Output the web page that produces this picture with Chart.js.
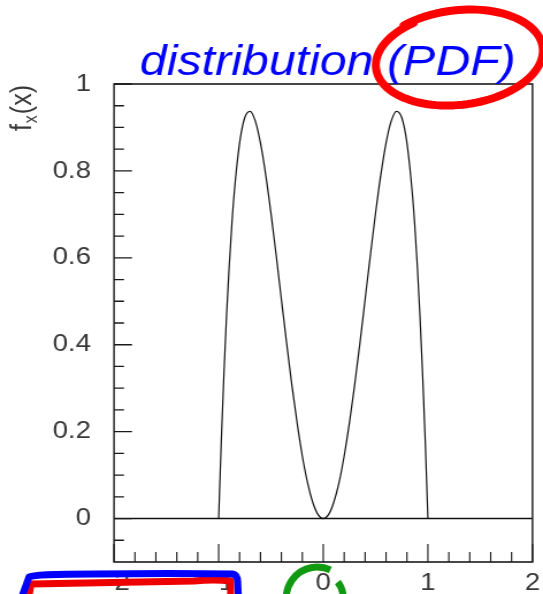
<!DOCTYPE html>
<html><head><meta charset="utf-8">
<script src="https://cdn.jsdelivr.net/npm/chart.js@4/dist/chart.umd.min.js"></script>
<style>
html,body{margin:0;padding:0;background:#fff;overflow:hidden;}
#wrap{width:543px;height:594px;overflow:hidden;position:relative;background:#fff;}
#c{position:absolute;left:0;top:0;transform-origin:0 0;transform:scaleX(1.1504237);}
</style></head><body>
<div id="wrap"><canvas id="c" width="472" height="594" style="width:472px;height:594px"></canvas></div>
<script>
// ---- data ----
const titleText = 'distribution (PDF)';
const yTitleMain = 'f', yTitleSub = 'x', yTitleRest = '(x)';
const pdfX = [-1, -0.975, -0.95, -0.925, -0.9, -0.875, -0.85, -0.8, -0.75, -0.7, -0.65, -0.6, -0.55, -0.5, -0.45, -0.4, -0.35, -0.3, -0.25, -0.2, -0.15, -0.1, -0.05, 0,
              0.05, 0.1, 0.15, 0.2, 0.25, 0.3, 0.35, 0.4, 0.45, 0.5, 0.55, 0.6, 0.65, 0.7, 0.75, 0.8, 0.85, 0.875, 0.9, 0.925, 0.95, 0.975, 1];
const pdfY = [0, 0.176, 0.330, 0.463, 0.577, 0.673, 0.752, 0.864, 0.923, 0.937, 0.915, 0.864, 0.791, 0.703, 0.606, 0.504, 0.403, 0.307, 0.220, 0.144, 0.082, 0.037, 0.009, 0,
              0.009, 0.037, 0.082, 0.144, 0.220, 0.307, 0.403, 0.504, 0.606, 0.703, 0.791, 0.864, 0.915, 0.937, 0.923, 0.864, 0.752, 0.673, 0.577, 0.463, 0.330, 0.176, 0];
const zeroX = [-2, 2];
const zeroY = [0, 0];
const xRange = [-2, 2];
const yRange = [-0.1, 1];
const xTickValues = [-2, -1, 0, 1, 2];
const xTickLabels = ['\u22122', '\u22121', '0', '1', '2'];
const xMinorTicks = [-1.8, -1.6, -1.4, -1.2, -0.8, -0.6, -0.4, -0.2, 0.2, 0.4, 0.6, 0.8, 1.2, 1.4, 1.6, 1.8];
const yTickValues = [0, 0.2, 0.4, 0.6, 0.8, 1];
const yTickLabels = ['0', '0.2', '0.4', '0.6', '0.8', '1'];
const yMinorTicks = [-0.05, 0.05, 0.1, 0.15, 0.25, 0.3, 0.35, 0.45, 0.5, 0.55, 0.65, 0.7, 0.75, 0.85, 0.9, 0.95];

// ---- rendering ----
const S = 543 / 472;           // horizontal stretch of the whole picture
const FONT = '"Liberation Sans", Arial, Helvetica, sans-serif';
const INK = '#383838';

const decor = {
  id: 'decor',
  afterDatasetsDraw(chart) {
    const {ctx, chartArea: a, scales: {x, y}} = chart;
    ctx.save();
    ctx.scale(1 / S, 1);
    const L = a.left * S, R = a.right * S, T = a.top, B = a.bottom;
    ctx.strokeStyle = '#1a1a1a';
    ctx.lineWidth = 1.3;
    ctx.beginPath();
    yTickValues.forEach(v => { const p = y.getPixelForValue(v); ctx.moveTo(L, p); ctx.lineTo(L + 18, p); });
    yMinorTicks.forEach(v => { const p = y.getPixelForValue(v); ctx.moveTo(L, p); ctx.lineTo(L + 10, p); });
    xTickValues.forEach(v => { const p = x.getPixelForValue(v) * S; ctx.moveTo(p, B); ctx.lineTo(p, B - 18); });
    xMinorTicks.forEach(v => { const p = x.getPixelForValue(v) * S; ctx.moveTo(p, B); ctx.lineTo(p, B - 10); });
    ctx.stroke();
    ctx.lineWidth = 1.6;
    ctx.strokeRect(L, T, R - L, B - T);
    ctx.restore();

    // title
    ctx.save();
    ctx.font = 'italic 42px ' + FONT;
    ctx.fillStyle = '#0000ff';
    ctx.textAlign = 'center';
    ctx.textBaseline = 'alphabetic';
    ctx.fillText(titleText, (a.left + a.right) / 2 + 4, a.top - 9);
    ctx.restore();

    // y axis title, rotated, ending at the top of the frame
    ctx.save();
    ctx.fillStyle = INK;
    ctx.translate(27, a.top + 1);
    ctx.rotate(-Math.PI / 2);
    ctx.textBaseline = 'alphabetic';
    ctx.textAlign = 'left';
    const big = '25px ' + FONT, small = '16px ' + FONT;
    ctx.font = big; const w1 = ctx.measureText(yTitleMain).width, w3 = ctx.measureText(yTitleRest).width;
    ctx.font = small; const w2 = ctx.measureText(yTitleSub).width;
    let u = -(w1 + w2 + w3 + 2);
    ctx.font = big; ctx.fillText(yTitleMain, u, 0); u += w1 + 1;
    ctx.font = small; ctx.fillText(yTitleSub, u, 5); u += w2 + 1;
    ctx.font = big; ctx.fillText(yTitleRest, u, 0);
    ctx.restore();
  },
  afterDraw(chart) {
    // hand-drawn highlight marks
    const {ctx, chartArea: a, scales: {x}} = chart;
    ctx.save();
    ctx.scale(1 / S, 1);
    ctx.lineCap = 'round';
    ctx.lineJoin = 'round';
    const R = a.right * S, T = a.top;
    // red loop around "(PDF)"
    const cx = R - 74, cy = T - 26, rx = 86, ry = 48, rot = -0.12;
    ctx.strokeStyle = '#ff0000';
    ctx.lineWidth = 8;
    ctx.beginPath();
    const t0 = -2.2, n = 120;
    for (let i = 0; i <= n; i++) {
      const t = t0 + (2 * Math.PI + 0.12) * i / n;
      const k = 1 - 0.04 * i / n;
      const ex = rx * k * Math.cos(t), ey = ry * k * Math.sin(t);
      const px = cx + ex * Math.cos(rot) - ey * Math.sin(rot);
      const py = cy + ex * Math.sin(rot) + ey * Math.cos(rot);
      if (i === 0) ctx.moveTo(px, py); else ctx.lineTo(px, py);
    }
    ctx.stroke();

    const p2 = x.getPixelForValue(-2) * S, p1 = x.getPixelForValue(-1) * S, p0 = x.getPixelForValue(0) * S;
    const B = a.bottom;
    // red box
    ctx.strokeStyle = '#ee0000';
    ctx.lineWidth = 7;
    ctx.beginPath();
    ctx.moveTo(p2 - 86, B + 40);
    ctx.lineTo(p2 - 83, B + 22);
    ctx.quadraticCurveTo(p2 + 10, B + 20, p2 + 80, B + 19);
    ctx.quadraticCurveTo(p1 - 5, B + 17, p1 + 12, B + 19);
    ctx.lineTo(p1 + 12, B + 40);
    ctx.stroke();
    // blue box
    ctx.strokeStyle = '#0000ff';
    ctx.lineWidth = 7;
    ctx.beginPath();
    ctx.moveTo(p2 - 94, B + 40);
    ctx.lineTo(p2 - 85, B + 15);
    ctx.quadraticCurveTo(p2 - 80, B + 12, p2 - 20, B + 12);
    ctx.quadraticCurveTo(p2 + 60, B + 11, p1 + 14, B + 12);
    ctx.quadraticCurveTo(p1 + 19, B + 13, p1 + 19, B + 20);
    ctx.lineTo(p1 + 20, B + 40);
    ctx.stroke();
    // green arc around "0"
    ctx.strokeStyle = '#119911';
    ctx.lineWidth = 7;
    ctx.lineCap = 'butt';
    const gx = p0 - 6, gy = B + 36;
    ctx.beginPath();
    ctx.arc(gx, gy, 31, 2.97, 5.15);
    ctx.stroke();
    ctx.beginPath();
    ctx.arc(gx, gy, 26, 5.62, 6.2);
    ctx.stroke();
    ctx.restore();
  }
};

new Chart(document.getElementById('c'), {
  type: 'line',
  data: {
    datasets: [
      { data: pdfX.map((v, i) => ({x: v, y: pdfY[i]})), borderColor: '#111111', borderWidth: 1.2,
        pointRadius: 0, fill: false, cubicInterpolationMode: 'monotone' },
      { data: zeroX.map((v, i) => ({x: v, y: zeroY[i]})), borderColor: '#111111', borderWidth: 1.6,
        pointRadius: 0, fill: false, tension: 0 }
    ]
  },
  options: {
    responsive: false,
    animation: false,
    devicePixelRatio: 1,
    layout: { padding: { left: 0, right: 472 - 532.5 / S, top: 84, bottom: 0 } },
    plugins: { legend: { display: false }, tooltip: { enabled: false }, title: { display: false } },
    scales: {
      x: {
        type: 'linear', min: xRange[0], max: xRange[1],
        afterBuildTicks: s => { s.ticks = xTickValues.map(v => ({value: v})); },
        afterFit: s => { s.height = 594 - 562; s.paddingLeft = 0; s.paddingRight = 0; },
        ticks: { autoSkip: false, maxRotation: 0, padding: 7, color: INK,
                 font: { family: FONT, size: 24 },
                 callback: (v) => { const i = xTickValues.indexOf(v); return i >= 0 ? xTickLabels[i] : ''; } },
        grid: { display: false, drawTicks: false }, border: { display: false }
      },
      y: {
        type: 'linear', min: yRange[0], max: yRange[1],
        afterBuildTicks: s => { s.ticks = yTickValues.map(v => ({value: v})); },
        afterFit: s => { s.width = 114 / S; s.paddingTop = 0; s.paddingBottom = 0; },
        ticks: { autoSkip: false, padding: 20, color: INK,
                 font: { family: FONT, size: 24 },
                 callback: (v) => { const i = yTickValues.indexOf(v); return i >= 0 ? yTickLabels[i] : ''; } },
        grid: { display: false, drawTicks: false }, border: { display: false }
      }
    }
  },
  plugins: [decor]
});
</script>
</body></html>
